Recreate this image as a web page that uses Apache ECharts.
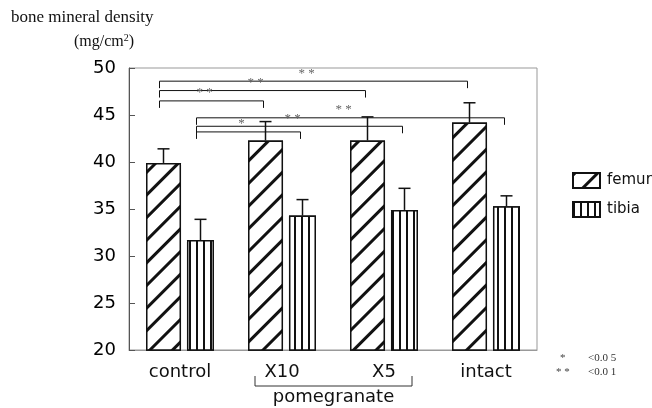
<!DOCTYPE html>
<html><head><meta charset="utf-8">
<script src="https://cdn.jsdelivr.net/npm/echarts@6/dist/echarts.min.js"></script>
<style>html,body{margin:0;padding:0;background:#fff}#c{width:652px;height:408px}</style>
</head><body><div id="c"></div>
<script>
const categories = ['control', 'X10', 'X5', 'intact'];
const femur = [39.9, 42.3, 42.3, 44.2];
const femurErr = [1.5, 2.0, 2.5, 2.1];
const tibia = [31.7, 34.3, 34.9, 35.3];
const tibiaErr = [2.2, 1.7, 2.3, 1.1];
const yTicks = [20, 25, 30, 35, 40, 45, 50];
// significance brackets: [fromCategory, toCategory, bar (0 femur / 1 tibia), level]
const brackets = [
  [0, 3, 0, 48.6],
  [0, 2, 0, 47.6],
  [0, 1, 0, 46.5],
  [0, 3, 1, 44.7],
  [0, 2, 1, 43.8],
  [0, 1, 1, 43.2]
];
const bracketLabels = ['* *', '* *', '* *', '* *', '* *', '*'];
// category grouping under the axis: [fromCategory, toCategory]
const groups = [[1, 2]];
const groupLabels = ['pomegranate'];

const BAR_OFFSET = [-16.5, 20.5];
const INK = '#111';

function errRender(barIdx) {
  return function (params, api) {
    const i = api.value(0), v = api.value(1), e = api.value(2);
    const p0 = api.coord([i, v]);
    const p1 = api.coord([i, v + e]);
    const x = p0[0] + BAR_OFFSET[barIdx];
    return {
      type: 'group', children: [
        { type: 'line', shape: { x1: x, y1: p0[1], x2: x, y2: p1[1] }, style: { stroke: INK, lineWidth: 1.5 } },
        { type: 'line', shape: { x1: x - 6, y1: p1[1], x2: x + 6, y2: p1[1] }, style: { stroke: INK, lineWidth: 1.5 } }
      ]
    };
  };
}

function bracketRender(params, api) {
  const a = api.value(0), b = api.value(1), bar = api.value(2), lv = api.value(3);
  const pa = api.coord([a, lv]), pb = api.coord([b, lv]);
  const x1 = pa[0] + BAR_OFFSET[bar] - 4, x2 = pb[0] + BAR_OFFSET[bar] - 2, y = pa[1];
  return {
    type: 'group', children: [
      { type: 'polyline', shape: { points: [[x1, y + 7], [x1, y], [x2, y], [x2, y + 7]] }, style: { stroke: '#111', lineWidth: 1, fill: null } },
      { type: 'text', style: { text: bracketLabels[params.dataIndex], x: (x1 + x2) / 2 - 7, y: y - 8, align: 'center', verticalAlign: 'middle', fontFamily: 'Liberation Serif', fontSize: 13, fill: '#666' } }
    ]
  };
}

function groupRender(params, api) {
  const a = api.value(0), b = api.value(1);
  const pa = api.coord([a, 20]), pb = api.coord([b, 20]);
  const x1 = pa[0] - 27, x2 = pb[0] + 28, y = pa[1] + 36;
  return {
    type: 'group', children: [
      { type: 'polyline', shape: { points: [[x1, y - 10], [x1, y], [x2, y], [x2, y - 10]] }, style: { stroke: '#333', lineWidth: 1, fill: null } },
      { type: 'text', style: { text: groupLabels[params.dataIndex], x: (x1 + x2) / 2, y: y + 11, align: 'center', verticalAlign: 'middle', fontFamily: 'DejaVu Sans', fontSize: 18, fill: INK } }
    ]
  };
}

const chart = echarts.init(document.getElementById('c'));
chart.setOption({
  animation: false,
  backgroundColor: '#fff',
  grid: { left: 129, right: 115, top: 68, bottom: 58, show: true, borderColor: '#999', borderWidth: 1 },
  legend: {
    orient: 'vertical', left: 572, top: 172, itemWidth: 27, itemHeight: 15, itemGap: 12, padding: 0,
    icon: 'rect', data: ['femur', 'tibia'],
    textStyle: { fontFamily: 'DejaVu Sans', fontSize: 15, color: INK, padding: [0, 0, 0, 2] }
  },
  xAxis: {
    type: 'category', data: categories,
    axisLine: { lineStyle: { color: '#999', width: 1 } },
    axisTick: { show: false },
    axisLabel: { fontFamily: 'DejaVu Sans', fontSize: 18, color: INK, margin: 13 }
  },
  yAxis: {
    type: 'value', min: yTicks[0], max: yTicks[yTicks.length - 1], interval: 5,
    axisLine: { show: true, lineStyle: { color: '#555', width: 1 } },
    axisTick: { show: true, inside: true, length: 6, lineStyle: { color: '#555' } },
    splitLine: { show: false },
    axisLabel: { fontFamily: 'DejaVu Sans', fontSize: 18, color: '#000', margin: 13 }
  },
  graphic: [
    { type: 'text', left: 11, top: 9, style: { text: 'bone mineral density', fontFamily: 'Liberation Serif', fontSize: 17, fill: INK } },
    { type: 'text', left: 74, top: 33, style: {
        text: '(mg/cm{s|2})', fontFamily: 'Liberation Serif', fontSize: 16, fill: INK,
        rich: { s: { fontSize: 10, verticalAlign: 'top', padding: [0, 0, 8, 0], fontFamily: 'Liberation Serif', fill: INK } } } },
    { type: 'text', left: 560, top: 353, style: { text: '*', fontFamily: 'Liberation Serif', fontSize: 11, fill: '#444' } },
    { type: 'text', left: 588, top: 353, style: { text: '<0.0 5', fontFamily: 'Liberation Serif', fontSize: 11, fill: '#333' } },
    { type: 'text', left: 556, top: 367, style: { text: '* *', fontFamily: 'Liberation Serif', fontSize: 11, fill: '#444' } },
    { type: 'text', left: 588, top: 367, style: { text: '<0.0 1', fontFamily: 'Liberation Serif', fontSize: 11, fill: '#333' } }
  ],
  series: [
    {
      type: 'bar', name: 'femur', data: femur, barWidth: 35, barGap: '17%',
      itemStyle: { color: '#fff', borderColor: INK, borderWidth: 1.5,
        decal: { symbol: 'rect', symbolSize: 1, dashArrayX: [1, 0], dashArrayY: [3, 13], rotation: -Math.PI / 4, color: INK, backgroundColor: '#fff' } }
    },
    {
      type: 'bar', name: 'tibia', data: tibia, barWidth: 27,
      itemStyle: { color: '#fff', borderColor: INK, borderWidth: 1.5,
        decal: { symbol: 'rect', symbolSize: 1, dashArrayX: [2, 5], dashArrayY: [1, 0], rotation: 0, color: INK, backgroundColor: '#fff' } }
    },
    { type: 'custom', renderItem: errRender(0), data: femur.map((v, i) => [i, v, femurErr[i]]), encode: { x: 0, y: 1 }, z: 5, silent: true },
    { type: 'custom', renderItem: errRender(1), data: tibia.map((v, i) => [i, v, tibiaErr[i]]), encode: { x: 0, y: 1 }, z: 5, silent: true },
    { type: 'custom', renderItem: bracketRender, data: brackets, encode: { x: [0, 1], y: 3 }, z: 6, silent: true },
    { type: 'custom', renderItem: groupRender, data: groups.map(g => [g[0], g[1]]), encode: { x: [0, 1] }, z: 6, silent: true, clip: false }
  ]
});
</script>
</body></html>
